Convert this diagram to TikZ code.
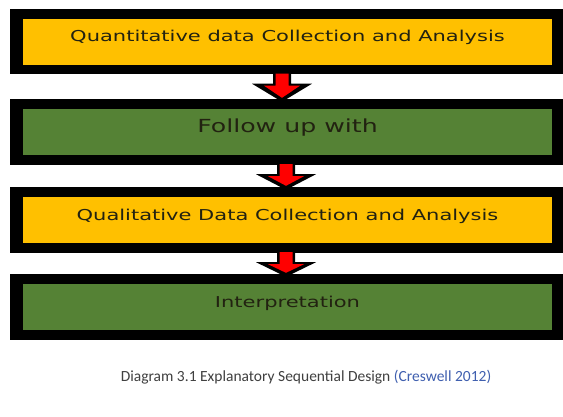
\documentclass[tikz,border=0pt]{standalone}
\usepackage{graphicx}
\usepackage{fontspec}
\setmainfont{DejaVu Sans}
\newfontfamily\capfont{Carlito}
\usetikzlibrary{calc,backgrounds}
\definecolor{boxyellow}{HTML}{FFC000}
\definecolor{boxgreen}{HTML}{558235}
\definecolor{capgrey}{HTML}{404040}
\definecolor{citeblue}{HTML}{3F5FAF}
\definecolor{arrowred}{HTML}{FF0000}
\definecolor{boxtext}{HTML}{222211}
\newcommand\widetext[2][1.4]{\scalebox{#1}[1]{#2}}
\tikzset{
  stagebox/.style={rectangle, minimum width=529pt, minimum height=46pt,
    inner sep=0pt, text height=11pt, text depth=11pt, text=boxtext,
    font=\fontsize{15}{17}\selectfont},
  yellowbox/.style={stagebox, fill=boxyellow},
  greenbox/.style={stagebox, fill=boxgreen},
  captext/.style={font=\capfont\fontsize{15.5}{18}\selectfont, text=capgrey, inner sep=0pt}
}
\newcommand\frameblack[1]{%
  \fill[black] ($(#1.north west)+(-13pt,9.5pt)$) rectangle ($(#1.south east)+(14pt,-9.5pt)$);}
\newcommand\flowarrow[3]{%
  \fill[black] let \p1=(#1.south), \p2=(#2.north) in
    (#3-9pt,\y1-9pt) -- (#3+9pt,\y1-9pt) -- (#3+9pt,\y1-19pt) -- (#3+30pt,\y1-19pt)
    -- (#3,\y2+7pt) -- (#3-30pt,\y1-19pt) -- (#3-9pt,\y1-19pt) -- cycle;
  \fill[arrowred] let \p1=(#1.south), \p2=(#2.north) in
    (#3-6.5pt,\y1-9pt) -- (#3+6.5pt,\y1-9pt) -- (#3+6.5pt,\y1-21pt) -- (#3+18pt,\y1-21pt)
    -- (#3,\y2+11pt) -- (#3-18pt,\y1-21pt) -- (#3-6.5pt,\y1-21pt) -- cycle;}
\begin{document}
\begin{tikzpicture}
\useasboundingbox (0pt,0pt) rectangle (563pt,-416pt);
\node[yellowbox] (quan) at (287.5pt,-41.5pt) {\widetext{Quantitative data Collection and Analysis}};
\node[greenbox] (follow) at (287.5pt,-132pt) {\widetext{\fontsize{18}{20}\selectfont Follow up with}};
\node[yellowbox] (qual) at (287.5pt,-220pt) {\widetext{Qualitative Data Collection and Analysis}};
\node[greenbox] (interp) at (287.5pt,-307pt) {\widetext{Interpretation}};
\begin{scope}[on background layer]
  \fill[white] (0pt,0pt) rectangle (563pt,-416pt);
  \frameblack{quan}
  \frameblack{follow}
  \frameblack{qual}
  \frameblack{interp}
\end{scope}
\flowarrow{quan}{follow}{282pt}
\flowarrow{follow}{qual}{286pt}
\flowarrow{qual}{interp}{286pt}
\node[captext] (caption) at (306pt,-377pt) {Diagram 3.1 Explanatory Sequential Design \textcolor{citeblue}{(Creswell 2012)}};
\end{tikzpicture}
\end{document}
